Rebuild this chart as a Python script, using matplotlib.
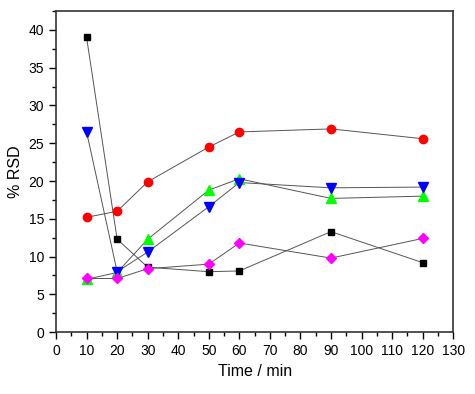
import numpy as np
import matplotlib.pyplot as plt
from matplotlib.ticker import MultipleLocator

plt.rcParams['font.family'] = ['Liberation Sans', 'DejaVu Sans']

time = [10, 20, 30, 50, 60, 90, 120]
rsd_square = [39.0, 12.3, 8.6, 8.0, 8.1, 13.3, 9.2]
rsd_circle = [15.2, 16.0, 19.9, 24.5, 26.5, 26.9, 25.6]
rsd_down = [26.5, 8.0, 10.6, 16.6, 19.8, 19.1, 19.2]
rsd_up = [7.0, 7.9, 12.3, 18.8, 20.3, 17.7, 18.0]
rsd_diamond = [7.1, 7.1, 8.4, 9.0, 11.8, 9.8, 12.4]

series = [
    (rsd_square, 's', 'black', 5),
    (rsd_circle, 'o', 'red', 6),
    (rsd_up, '^', '#00ff00', 6.5),
    (rsd_down, 'v', 'blue', 6.5),
    (rsd_diamond, 'D', 'magenta', 5),
]

fig = plt.figure(figsize=(4.75, 3.94), dpi=100)
ax = fig.add_axes([0.118, 0.157, 0.836, 0.815])

for y, m, c, ms in series:
    ax.plot(time, y, color='#555555', lw=0.7, zorder=2)
    ax.plot(time, y, ls='none', marker=m, color=c, ms=ms, mec=c, zorder=3)

ax.set_xlim(0, 130)
ax.set_ylim(0, 42.5)
ax.xaxis.set_major_locator(MultipleLocator(10))
ax.xaxis.set_minor_locator(MultipleLocator(5))
ax.yaxis.set_major_locator(MultipleLocator(5))
ax.yaxis.set_minor_locator(MultipleLocator(2.5))
ax.tick_params(which='both', direction='out', top=False, right=False, labelsize=10, width=1)
ax.tick_params(which='major', length=5)
ax.tick_params(which='minor', length=3)
for s in ax.spines.values():
    s.set_linewidth(1.2)
    s.set_color('#333333')

ax.set_xlabel('Time / min', fontsize=11.5)
ax.set_ylabel('% RSD', fontsize=11.5)

fig.savefig('out.png', dpi=100)
